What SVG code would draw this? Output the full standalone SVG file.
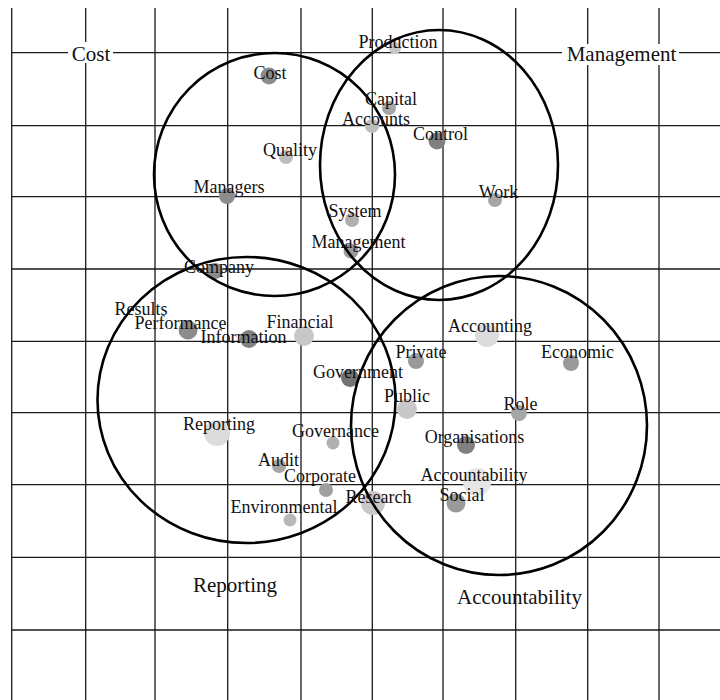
<svg xmlns="http://www.w3.org/2000/svg" width="720" height="700" viewBox="0 0 720 700">
<style>
.g{stroke:#1a1a1a;stroke-width:1.3;fill:none}
.c{stroke:#000;stroke-width:2.6;fill:none}
text{font-family:"Liberation Serif","Times New Roman",serif;fill:#111;text-anchor:middle}
.s{font-size:18px}
.b{font-size:21px}
</style>
<rect width="720" height="700" fill="#fff"/>
<g id="grid">
<path class="g" d="M11.7 8V700M85.7 8V700M155 8V700M227.7 8V700M301 8V700M372.3 8V700M443 8V700M515.7 8V700M587.7 8V700M659 8V700"/>
<path class="g" d="M11.7 52.7H720M11.7 125.7H720M11.7 196.7H720M11.7 269H720M11.7 341.3H720M11.7 412.7H720M11.7 484.7H720M11.7 557.3H720M11.7 630H720"/>
</g>
<g id="axis-labels">
<rect x="68" y="42" width="45" height="21" fill="#fff"/>
<text class="b" x="91" y="61">Cost</text>
<rect x="562" y="44" width="117" height="21" fill="#fff"/>
<text class="b" x="621.5" y="61">Management</text>
</g>
<g id="points">
<circle cx="395" cy="48" r="6" fill="#c8c8c8"/>
<circle cx="269" cy="76" r="8.5" fill="#8c8c8c"/>
<circle cx="389" cy="108" r="7" fill="#a6a6a6"/>
<circle cx="372" cy="126" r="7" fill="#bdbdbd"/>
<circle cx="437" cy="141" r="8.5" fill="#808080"/>
<circle cx="286" cy="157" r="7" fill="#bdbdbd"/>
<circle cx="227" cy="196" r="8" fill="#8c8c8c"/>
<circle cx="495" cy="200" r="7" fill="#a6a6a6"/>
<circle cx="352" cy="220" r="7" fill="#b0b0b0"/>
<circle cx="351" cy="251" r="7.5" fill="#9a9a9a"/>
<circle cx="215" cy="271" r="8" fill="#8c8c8c"/>
<circle cx="188" cy="330" r="9.5" fill="#8c8c8c"/>
<circle cx="249" cy="339" r="9" fill="#808080"/>
<circle cx="304" cy="336" r="10" fill="#c8c8c8"/>
<circle cx="487" cy="335" r="12" fill="#dcdcdc"/>
<circle cx="416" cy="361" r="8" fill="#9a9a9a"/>
<circle cx="571" cy="363" r="8" fill="#9a9a9a"/>
<circle cx="350" cy="378" r="9" fill="#737373"/>
<circle cx="407" cy="409" r="10" fill="#c8c8c8"/>
<circle cx="519" cy="413" r="8" fill="#a6a6a6"/>
<circle cx="217" cy="433" r="13" fill="#dcdcdc"/>
<circle cx="333" cy="443" r="6.5" fill="#b0b0b0"/>
<circle cx="466" cy="445" r="9" fill="#808080"/>
<circle cx="279" cy="466" r="7" fill="#a6a6a6"/>
<circle cx="477" cy="482" r="14" fill="#e6e6e6"/>
<circle cx="326" cy="490" r="7" fill="#a0a0a0"/>
<circle cx="456" cy="503" r="9.5" fill="#9a9a9a"/>
<circle cx="373" cy="503" r="12" fill="#c8c8c8"/>
<circle cx="290" cy="520" r="6.5" fill="#b8b8b8"/>
</g>
<g id="clusters">
<ellipse class="c" cx="274.5" cy="174.5" rx="120.5" ry="121.5"/>
<ellipse class="c" cx="439" cy="165" rx="119" ry="135"/>
<ellipse class="c" cx="246.5" cy="400" rx="149" ry="143"/>
<ellipse class="c" cx="499" cy="425.5" rx="148" ry="149.5"/>
</g>
<g id="labels" class="s">
<text class="s" x="398" y="48">Production</text>
<text class="s" x="270" y="79">Cost</text>
<text class="s" x="391" y="105">Capital</text>
<text class="s" x="376" y="125">Accounts</text>
<text class="s" x="440.5" y="139.5">Control</text>
<text class="s" x="290" y="156">Quality</text>
<text class="s" x="229" y="193">Managers</text>
<text class="s" x="498.5" y="198">Work</text>
<text class="s" x="355" y="217">System</text>
<text class="s" x="358.5" y="248">Management</text>
<text class="s" x="219" y="273">Company</text>
<text class="s" x="141" y="315">Results</text>
<text class="s" x="180.5" y="329">Performance</text>
<text class="s" x="243.5" y="343">Information</text>
<text class="s" x="300" y="328">Financial</text>
<text class="s" x="490" y="332">Accounting</text>
<text class="s" x="421" y="358">Private</text>
<text class="s" x="577.5" y="358">Economic</text>
<text class="s" x="358" y="378">Government</text>
<text class="s" x="407" y="402">Public</text>
<text class="s" x="520.5" y="410">Role</text>
<text class="s" x="219" y="430">Reporting</text>
<text class="s" x="335.5" y="437">Governance</text>
<text class="s" x="474.5" y="443">Organisations</text>
<text class="s" x="278.5" y="466">Audit</text>
<text class="s" x="320" y="481.5">Corporate</text>
<text class="s" x="474" y="481">Accountability</text>
<text class="s" x="378.5" y="503">Research</text>
<text class="s" x="462" y="501">Social</text>
<text class="s" x="284" y="513">Environmental</text>
</g>
<g id="cluster-labels">
<text class="b" x="235" y="592">Reporting</text>
<text class="b" x="519.5" y="604">Accountability</text>
</g>
</svg>
